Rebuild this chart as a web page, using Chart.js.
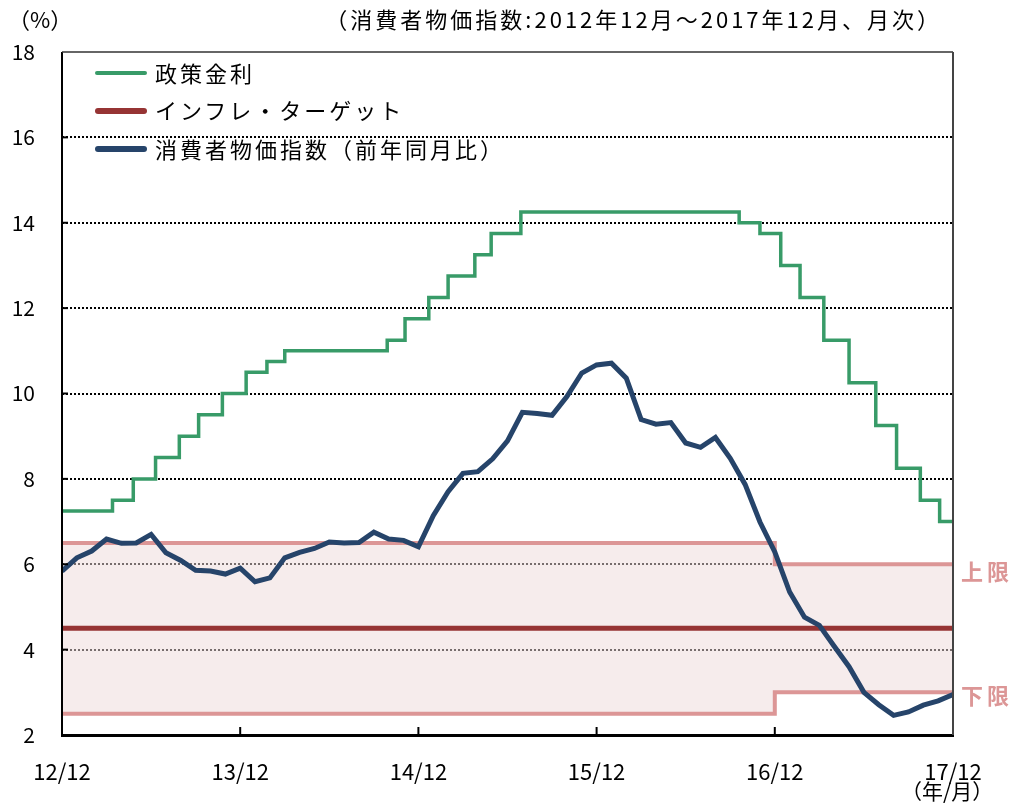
<!DOCTYPE html>
<html>
<head>
<meta charset="utf-8">
<script src="https://cdn.jsdelivr.net/npm/chart.js@4/dist/chart.umd.min.js"></script>
<style>
  body { margin: 0; background: #fff; }
  #wrap { position: relative; width: 1016px; height: 803px; font-family: "Noto Sans CJK JP", "Noto Sans", sans-serif; color: #000; }
  #wrap canvas { position: absolute; left: 0; top: 0; }
  .txt { position: absolute; white-space: nowrap; line-height: 1; }
  .leg { position: absolute; left: 95px; width: 52px; border-radius: 3px; }
</style>
</head>
<body>
<div id="wrap">
  <canvas id="myChart" width="1016" height="803"></canvas>
  <div class="txt" style="left:8px; top:7px; font-size:22px;">（%）</div>
  <div class="txt" style="right:74px; top:7px; font-size:22px; letter-spacing:3px;">（消費者物価指数:2012年12月～2017年12月、月次）</div>

  <div class="leg" style="top:71px; height:4px; background:#389b68;"></div>
  <div class="txt" style="left:155px; top:61px; font-size:22px; letter-spacing:3px;">政策金利</div>
  <div class="leg" style="top:108px; height:6px; background:#963434;"></div>
  <div class="txt" style="left:155px; top:98px; font-size:22px; letter-spacing:3px;">インフレ・ターゲット</div>
  <div class="leg" style="top:146px; height:6px; background:#26446a;"></div>
  <div class="txt" style="left:155px; top:137px; font-size:22px; letter-spacing:3px;">消費者物価指数（前年同月比）</div>

  <div class="txt" style="left:961px; top:559px; font-size:22px; font-weight:bold; color:#dc9696; letter-spacing:4px;">上限</div>
  <div class="txt" style="left:961px; top:683px; font-size:22px; font-weight:bold; color:#dc9696; letter-spacing:4px;">下限</div>
  <div class="txt" style="left:901px; top:780px; font-size:21px;">（年/月）</div>
</div>
<script>
// x axis: months since 2012/12
const tickMonths = [0, 12, 24, 36, 48, 60];
const tickLabels = ["12/12", "13/12", "14/12", "15/12", "16/12", "17/12"];

// consumer price index, yoy %, 2012/12 .. 2017/12
const cpi = [
  5.84,
  6.15, 6.31, 6.59, 6.49, 6.50, 6.70, 6.27, 6.09, 5.86, 5.84, 5.77, 5.91,
  5.59, 5.68, 6.15, 6.28, 6.37, 6.52, 6.50, 6.51, 6.75, 6.59, 6.56, 6.41,
  7.14, 7.70, 8.13, 8.17, 8.47, 8.89, 9.56, 9.53, 9.49, 9.93, 10.48, 10.67,
  10.71, 10.36, 9.39, 9.28, 9.32, 8.84, 8.74, 8.97, 8.48, 7.87, 6.99, 6.29,
  5.35, 4.76, 4.57, 4.08, 3.60, 3.00, 2.71, 2.46, 2.54, 2.70, 2.80, 2.95
];

// policy rate: month position of each change and the new level
const rateMonth = [0, 3.4, 4.8, 6.3, 7.9, 9.2, 10.8, 12.4, 13.8, 15.0, 21.9, 23.1, 24.7, 26.0,
  27.8, 28.9, 30.9, 45.6, 47.0, 48.4, 49.7, 51.3, 53.0, 54.8, 56.2, 57.8, 59.1, 60];
const policyRate = [7.25, 7.5, 8.0, 8.5, 9.0, 9.5, 10.0, 10.5, 10.75, 11.0, 11.25, 11.75, 12.25, 12.75,
  13.25, 13.75, 14.25, 14.0, 13.75, 13.0, 12.25, 11.25, 10.25, 9.25, 8.25, 7.5, 7.0, 7.0];

// inflation target and tolerance band
const targetMonth = [0, 60];
const target = [4.5, 4.5];
const bandMonth = [0, 48, 48, 60];
const upperBand = [6.5, 6.5, 6.0, 6.0];
const lowerBand = [2.5, 2.5, 3.0, 3.0];

const FONT = "'Noto Sans CJK JP', 'Noto Sans', sans-serif";

function pts(xs, ys) {
  return xs.map((x, i) => ({ x: x, y: ys[i] }));
}

// frame, inner tick marks
const framePlugin = {
  id: "frame",
  afterDatasetsDraw(chart) {
    const { ctx, chartArea: a, scales } = chart;
    ctx.save();
    ctx.setLineDash([]);
    ctx.strokeStyle = "#000";
    ctx.lineWidth = 2;
    ctx.beginPath();
    ctx.moveTo(a.left, a.top);
    ctx.lineTo(a.left, a.bottom);
    ctx.stroke();
    [4, 6, 8, 10, 12, 14, 16].forEach((v) => {
      const y = scales.y.getPixelForValue(v);
      ctx.beginPath();
      ctx.moveTo(a.left, y);
      ctx.lineTo(a.left + 6, y);
      ctx.stroke();
    });
    tickMonths.slice(1).forEach((m) => {
      const x = scales.x.getPixelForValue(m);
      ctx.beginPath();
      ctx.moveTo(x, a.bottom);
      ctx.lineTo(x, a.bottom - 8);
      ctx.stroke();
    });
    ctx.strokeStyle = "#333";
    ctx.lineWidth = 1.5;
    ctx.beginPath();
    ctx.moveTo(a.left, a.top);
    ctx.lineTo(a.right, a.top);
    ctx.stroke();
    ctx.strokeStyle = "#444";
    ctx.lineWidth = 2;
    ctx.beginPath();
    ctx.moveTo(a.right, a.top);
    ctx.lineTo(a.right, a.bottom);
    ctx.stroke();
    ctx.restore();
  },
};

const config = {
  type: "line",
  data: {
    datasets: [
      {
        label: "消費者物価指数（前年同月比）",
        data: pts(cpi.map((v, i) => i), cpi),
        borderColor: "#26446a",
        borderWidth: 5,
        pointRadius: 0,
        tension: 0,
      },
      {
        label: "政策金利",
        data: pts(rateMonth, policyRate),
        borderColor: "#389b68",
        borderWidth: 3.5,
        pointRadius: 0,
        stepped: true,
      },
      {
        label: "インフレ・ターゲット",
        data: pts(targetMonth, target),
        borderColor: "#963434",
        borderWidth: 5,
        pointRadius: 0,
      },
      {
        label: "上限",
        data: pts(bandMonth, upperBand),
        borderColor: "#dc9696",
        borderWidth: 4,
        pointRadius: 0,
      },
      {
        label: "下限",
        data: pts(bandMonth, lowerBand),
        borderColor: "#dc9696",
        borderWidth: 4,
        pointRadius: 0,
        fill: "-1",
        backgroundColor: "rgba(238, 218, 218, 0.5)",
      },
    ],
  },
  options: {
    responsive: false,
    animation: false,
    layout: { padding: { top: 52, right: 63, left: 0, bottom: 0 } },
    plugins: {
      legend: { display: false },
      tooltip: { enabled: false },
      filler: { drawTime: "beforeDatasetsDraw" },
    },
    scales: {
      x: {
        type: "linear",
        min: 0,
        max: 60,
        afterFit: (s) => { s.height = 68; },
        afterBuildTicks: (s) => { s.ticks = tickMonths.map((v) => ({ value: v })); },
        ticks: {
          callback: (v) => tickLabels[tickMonths.indexOf(v)],
          color: "#000",
          font: { size: 22, family: FONT },
          padding: 15,
          maxRotation: 0,
          autoSkip: false,
        },
        grid: { display: false },
        border: { display: true, color: "#000", width: 3 },
      },
      y: {
        min: 2,
        max: 18,
        afterFit: (s) => { s.width = 62; },
        ticks: {
          stepSize: 2,
          color: "#000",
          font: { size: 21, family: FONT },
          padding: 27,
        },
        grid: {
          drawTicks: false,
          lineWidth: 2,
          color: (c) => (c.tick && (c.tick.value === 2 || c.tick.value === 18) ? "rgba(0,0,0,0)" : "#000"),
        },
        border: { display: false, dash: [2, 2] },
      },
    },
  },
  plugins: [framePlugin],
};

let myChart = new Chart(document.getElementById("myChart"), config);
</script>
</body>
</html>
